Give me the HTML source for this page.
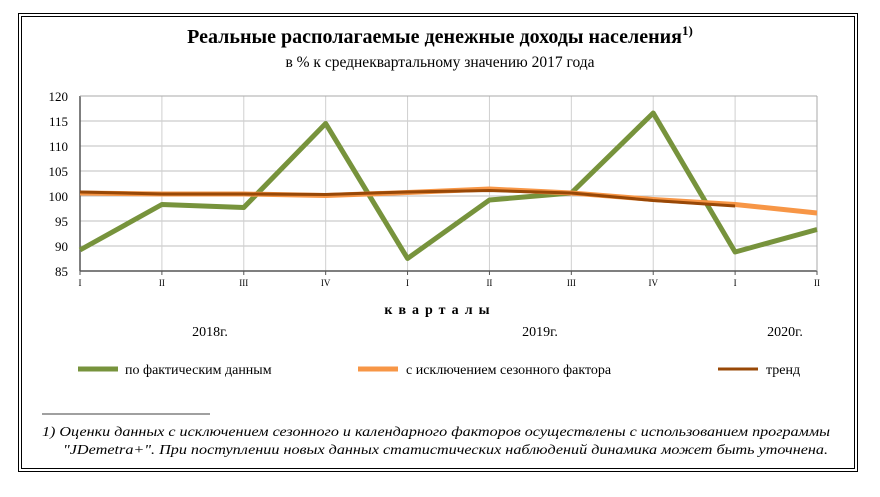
<!DOCTYPE html>
<html><head><meta charset="utf-8"><style>
body{margin:0;width:880px;height:497px;background:#fff;overflow:hidden;font-family:"Liberation Serif",serif}
svg{display:block}
</style></head><body>
<svg width="880" height="497">
<rect x="18.5" y="13.5" width="839" height="458" fill="none" stroke="#000" stroke-width="1"/>
<rect x="21.5" y="16.5" width="833" height="452" fill="none" stroke="#000" stroke-width="1"/>
<text x="440" y="43" text-anchor="middle" font-size="20" font-weight="bold">Реальные располагаемые денежные доходы населения<tspan font-size="13" dy="-8">1)</tspan></text>
<text x="440" y="67" text-anchor="middle" font-size="15.5">в % к среднеквартальному значению 2017 года</text>
<g id="grid"></g>
<g id="axes"></g>
<g id="series"></g>
<text x="440" y="314" text-anchor="middle" font-size="14" font-weight="bold" letter-spacing="6">кварталы</text>
<text x="210" y="336" text-anchor="middle" font-size="14">2018г.</text>
<text x="540" y="336" text-anchor="middle" font-size="14">2019г.</text>
<text x="785" y="336" text-anchor="middle" font-size="14">2020г.</text>
<g>
<line x1="78" y1="369" x2="118" y2="369" stroke="#77933c" stroke-width="5"/>
<text x="125" y="374" font-size="14">по фактическим  данным</text>
<line x1="358" y1="369" x2="398" y2="369" stroke="#f79646" stroke-width="5"/>
<text x="406" y="374" font-size="14">с исключением  сезонного  фактора</text>
<line x1="718" y1="369" x2="758" y2="369" stroke="#984807" stroke-width="3"/>
<text x="766" y="374" font-size="14">тренд</text>
</g>
<line x1="42" y1="414" x2="210" y2="414" stroke="#000" stroke-width="0.8"/>
<text x="42" y="436" font-size="13.5" font-style="italic" textLength="788" lengthAdjust="spacingAndGlyphs">1) Оценки данных с исключением сезонного и календарного факторов осуществлены с использованием программы</text>
<text x="63" y="454" font-size="13.5" font-style="italic" textLength="765" lengthAdjust="spacingAndGlyphs">"JDemetra+".  При поступлении новых данных статистических наблюдений динамика может быть уточнена.</text>
</svg>
<script>
const categories=["I","II","III","IV","I","II","III","IV","I","II"];
const actual=[89.2,98.3,97.7,114.5,87.5,99.2,100.6,116.6,88.8,93.3];
const seasonal=[100.6,100.4,100.4,100.1,100.7,101.4,100.6,99.3,98.3,96.6];
const trend=[100.8,100.4,100.4,100.3,100.8,101.1,100.6,99.1,98.0];
const yTicks=[85,90,95,100,105,110,115,120];
const NS="http://www.w3.org/2000/svg";
const X0=80,X1=817,Y0=271,Y1=96,yMin=85,yMax=120;
const xs=i=>X0+(X1-X0)*i/(categories.length-1);
const ys=v=>Y0-(v-yMin)/(yMax-yMin)*(Y0-Y1);
function mk(tag,attrs,parent){const e=document.createElementNS(NS,tag);for(const k in attrs)e.setAttribute(k,attrs[k]);parent.appendChild(e);return e;}
const grid=document.getElementById('grid'),axes=document.getElementById('axes'),series=document.getElementById('series');
yTicks.forEach(v=>{
 const l=mk('line',{x1:X0,x2:X1,y1:ys(v),y2:ys(v),stroke:'#bfbfbf','stroke-width':1},grid);
 
 
 const t=mk('text',{x:X0-12,y:ys(v)+5,'text-anchor':'end','font-size':13},axes);
 t.textContent=v;
 
 
});
categories.forEach((c,i)=>{
 const l=mk('line',{x1:xs(i),x2:xs(i),y1:Y1,y2:Y0,stroke:'#d0d0d0','stroke-width':1},grid);
 
 
 const tk=mk('line',{x1:xs(i),x2:xs(i),y1:Y0,y2:Y0+4,stroke:'#555'},axes);
 
 
 const t=mk('text',{x:xs(i),y:Y0+15,'text-anchor':'middle','font-size':9},axes);
 t.textContent=c;
 
 
});
const ax=mk('line',{x1:X0,x2:X0,y1:Y1,y2:Y0,stroke:'#555','stroke-width':1.5},axes);


const bx=mk('line',{x1:X0,x2:X1,y1:Y0,y2:Y0,stroke:'#555','stroke-width':1.5},axes);


const rx=mk('line',{x1:X1,x2:X1,y1:Y1,y2:Y0,stroke:'#aaa','stroke-width':1},axes);


const tx=mk('line',{x1:X0,x2:X1,y1:Y1,y2:Y1,stroke:'#aaa','stroke-width':1},axes);


function line(arr,color,w,name){
 const p=mk('polyline',{points:arr.map((v,i)=>xs(i)+','+ys(v)).join(' '),fill:'none',stroke:color,'stroke-width':w,'stroke-linejoin':'round'},series);
 
 
}
line(actual,'#77933c',5,'actual-line');
line(seasonal,'#f79646',5,'seasonal-line');
line(trend,'#984807',3,'trend-line');
</script>
</body></html>
